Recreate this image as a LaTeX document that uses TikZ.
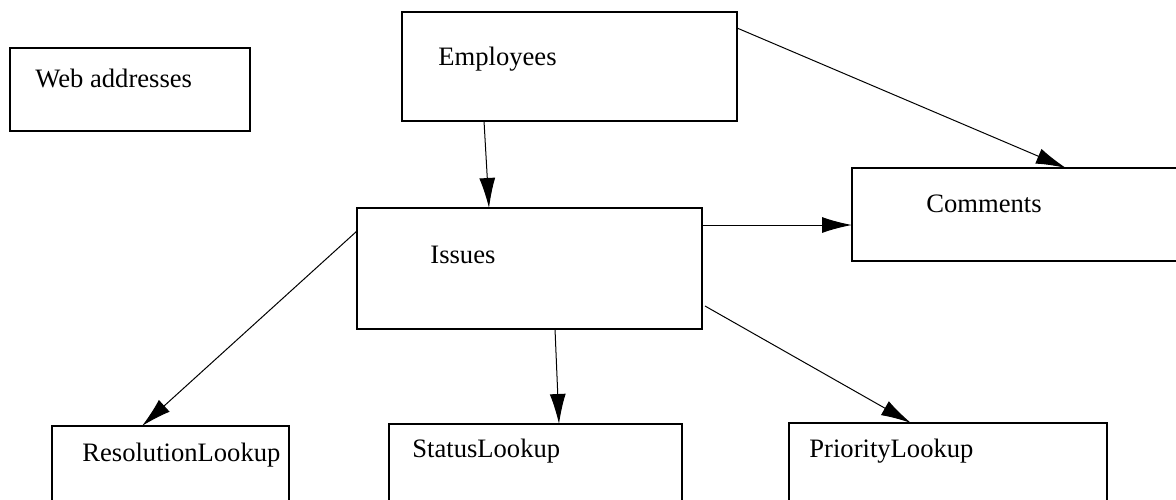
\documentclass[tikz,border=0pt]{standalone}
\usepackage{fontspec}
\setmainfont{Liberation Serif}
\usetikzlibrary{arrows.meta}

\begin{document}
\begin{tikzpicture}[x=0.5pt, y=0.5pt,
    every node/.style={font=\fontsize{13.3}{16}\selectfont},
    table/.style={draw, line width=1pt, inner sep=0pt, outer sep=0pt},
    title/.style={anchor=base west, inner sep=0pt},
    link/.style={line width=0.5pt, -{Latex[length=15pt, width=8pt]}}]
    \useasboundingbox (0,0) rectangle (1176,499);

    % Tables
    \node[table, minimum width=120pt, minimum height=41.5pt] (web) at (130,409.5) {};
    \node[table, minimum width=167.5pt, minimum height=54.5pt] (emp) at (569.5,432.5) {};
    \node[table, minimum width=169pt, minimum height=46.5pt] (com) at (1021,284.5) {};
    \node[table, minimum width=172.5pt, minimum height=60.5pt] (iss) at (529.5,230.5) {};
    \node[table, minimum width=118.5pt, minimum height=42pt] (res) at (170.5,31) {};
    \node[table, minimum width=146.5pt, minimum height=43pt] (sta) at (535.5,32) {};
    \node[table, minimum width=159pt, minimum height=43.5pt] (pri) at (948,32.5) {};

    % Names
    \node[title] (web-name) at (35,411) {Web addresses};
    \node[title] (emp-name) at (438,433) {Employees};
    \node[title] (com-name) at (926,287) {Comments};
    \node[title] (iss-name) at (430,236) {Issues};
    \node[title] (res-name) at (82,38) {ResolutionLookup};
    \node[title] (sta-name) at (412,42) {StatusLookup};
    \node[title] (pri-name) at (809,42) {PriorityLookup};

    % Links
    \draw[link] ([shift={(-85.5,0)}]emp.south) -- ([shift={(-40.5,0)}]iss.north);
    \draw[link] ([shift={(0,-16)}]emp.north east) -- ([shift={(214,0)}]com.north west);
    \draw[link] ([shift={(0,-17)}]iss.north east) -- ([shift={(0,-57)}]com.north west);
    \draw[link] ([shift={(0,-23)}]iss.north west) -- ([shift={(90,0)}]res.north west);
    \draw[link] ([shift={(25.5,0)}]iss.south) -- ([shift={(23.5,0)}]sta.north);
    \draw[link] ([shift={(3,23)}]iss.south east) -- ([shift={(122,0)}]pri.north west);
\end{tikzpicture}
\end{document}
